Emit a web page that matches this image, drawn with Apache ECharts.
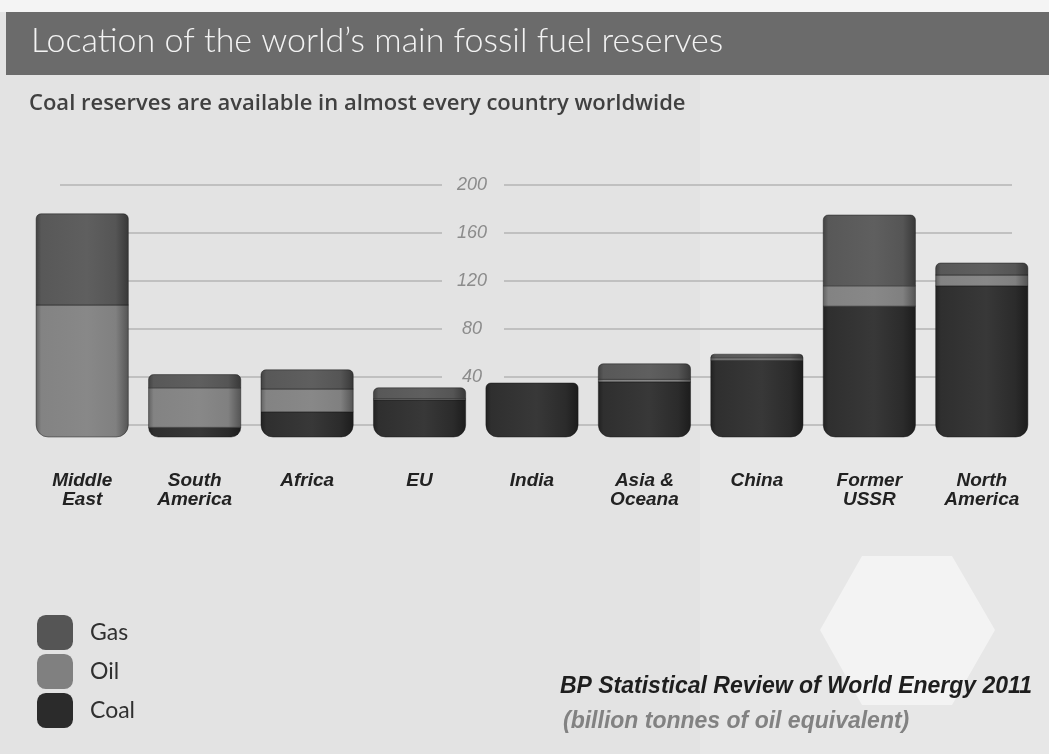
<!DOCTYPE html>
<html>
<head>
<meta charset="utf-8">
<script src="https://cdn.jsdelivr.net/npm/echarts@6/dist/echarts.min.js"></script>
<style>
  html, body { margin: 0; padding: 0; background: #e3e3e3; }
  #chart { width: 1049px; height: 754px; }
</style>
</head>
<body>
<div id="chart"></div>
<script>
// ---- data (billion tonnes of oil equivalent) ----
const categories = ['Middle\nEast', 'South\nAmerica', 'Africa', 'EU', 'India', 'Asia &\nOceana', 'China', 'Former\nUSSR', 'North\nAmerica'];
const coal = [0, 8, 21, 31, 45, 46, 64, 109, 126];
const oil  = [110, 33, 19, 1, 0, 2, 2, 17, 9];
const gas  = [76, 11, 16, 9, 0, 13, 3, 59, 10];
const yMin = 0, yMax = 200, yInterval = 40;
const seriesNames = ['Coal', 'Oil', 'Gas'];
const seriesColors = { Coal: '#2b2b2b', Oil: '#808080', Gas: '#555555' };

const stacks = [coal, oil, gas];
const totals = categories.map((_, i) => coal[i] + oil[i] + gas[i]);

function buildData(k) {
  return categories.map((_, i) => {
    let s = 0;
    for (let j = 0; j < k; j++) s += stacks[j][i];
    const e = s + stacks[k][i];
    return [i, s, e, totals[i]];
  });
}

function shade(hex, f) {
  const n = parseInt(hex.slice(1), 16);
  let r = (n >> 16) & 255, g = (n >> 8) & 255, b = n & 255;
  const adj = c => Math.max(0, Math.min(255, Math.round(f >= 0 ? c + (255 - c) * f : c * (1 + f))));
  return 'rgb(' + adj(r) + ',' + adj(g) + ',' + adj(b) + ')';
}

function makeRender(color) {
  return function (params, api) {
    const i = api.value(0), s = api.value(1), e = api.value(2), tot = api.value(3);
    if (e - s <= 0) return null;
    const p0 = api.coord([i, s]);
    const p1 = api.coord([i, e]);
    const bw = api.size([1, 0])[0] * 0.82;
    const shift = 12;
    const isBottom = s === 0, isTop = e === tot;
    const r = [isTop ? 5 : 0, isTop ? 5 : 0, isBottom ? 12 : 0, isBottom ? 12 : 0];
    return {
      type: 'rect',
      shape: { x: p0[0] - bw / 2, y: p1[1] + shift, width: bw, height: p0[1] - p1[1], r: r },
      style: {
        fill: new echarts.graphic.LinearGradient(0, 0, 1, 0, [
          { offset: 0, color: shade(color, -0.25) },
          { offset: 0.06, color: shade(color, 0.02) },
          { offset: 0.55, color: shade(color, 0.06) },
          { offset: 0.86, color: color },
          { offset: 1, color: shade(color, -0.35) }
        ]),
        stroke: 'rgba(20,20,20,0.45)',
        lineWidth: 1
      }
    };
  };
}

const chart = echarts.init(document.getElementById('chart'), null, { renderer: 'canvas' });

const gridTop = 185, gridHeight = 240;

const option = {
  backgroundColor: '#e3e3e3',
  animation: false,
  graphic: [
    { type: 'rect', z: -10, shape: { x: 0, y: 0, width: 1049, height: 12 }, style: { fill: '#f4f4f4' } },
    { type: 'rect', z: -10, shape: { x: 700, y: 75, width: 349, height: 679 }, style: { fill: 'rgba(255,255,255,0.15)' } },
    { type: 'polygon', z: -9, shape: { points: [[820, 630], [862, 556], [952, 556], [995, 630], [952, 705], [862, 705]] }, style: { fill: 'rgba(255,255,255,0.5)' } },
    { type: 'rect', z: -8, shape: { x: 6, y: 12, width: 1043, height: 63 }, style: { fill: '#6b6b6b' } }
  ],
  title: [
    { text: 'Location of the world\u2019s main fossil fuel reserves', left: 26, top: 19,
      textStyle: { fontFamily: 'Lato', fontWeight: 300, fontSize: 34, color: '#f3f3f3' } },
    { text: 'Coal reserves are available in almost every country worldwide', left: 24, top: 88,
      textStyle: { fontFamily: 'Open Sans', fontWeight: 600, fontSize: 22, color: '#404040' } },
    { text: 'BP Statistical Review of World Energy 2011', right: 12, top: 670,
      textStyle: { fontFamily: 'Liberation Sans', fontStyle: 'italic', fontWeight: 'bold', fontSize: 23, color: '#1e1e1e' } },
    { text: '(billion tonnes of oil equivalent)', left: 558, top: 705,
      textStyle: { fontFamily: 'Liberation Sans', fontStyle: 'italic', fontWeight: 'bold', fontSize: 23, color: '#828282' } }
  ],
  legend: {
    orient: 'vertical', left: 32, top: 610,
    itemWidth: 36, itemHeight: 35, itemGap: 4, icon: 'roundRect',
    data: ['Gas', 'Oil', 'Coal'],
    textStyle: { fontFamily: 'Lato', fontSize: 23, color: '#303030', padding: [0, 0, 0, 12] }
  },
  grid: [
    { left: 26, width: 1012, top: gridTop, height: gridHeight },
    { left: 60, width: 382, top: gridTop, height: gridHeight },
    { left: 504, width: 508, top: gridTop, height: gridHeight }
  ],
  xAxis: [
    { type: 'category', gridIndex: 0, data: categories,
      axisLine: { show: false }, axisTick: { show: false },
      axisLabel: { margin: 46, fontFamily: 'Liberation Sans', fontStyle: 'italic', fontWeight: 'bold', fontSize: 19, color: '#222222', lineHeight: 19 } },
    { type: 'value', gridIndex: 1, min: 0, max: 1, show: false },
    { type: 'value', gridIndex: 2, min: 0, max: 1, show: false }
  ],
  yAxis: [
    { type: 'value', gridIndex: 0, min: yMin, max: yMax, interval: yInterval, show: false },
    { type: 'value', gridIndex: 1, min: yMin, max: yMax, interval: yInterval, position: 'right',
      axisLine: { show: false }, axisTick: { show: false },
      splitLine: { show: true, lineStyle: { color: '#b4b4b4', width: 1.5 } },
      axisLabel: { show: true, align: 'center', margin: 30, fontFamily: 'Liberation Sans', fontStyle: 'italic', fontSize: 18, color: '#8c8c8c',
        formatter: v => (v === 0 ? '' : String(v)) } },
    { type: 'value', gridIndex: 2, min: yMin, max: yMax, interval: yInterval,
      axisLine: { show: false }, axisTick: { show: false }, axisLabel: { show: false },
      splitLine: { show: true, lineStyle: { color: '#b4b4b4', width: 1.5 } } }
  ],
  series: seriesNames.map((name, k) => ({
    type: 'custom', name: name, xAxisIndex: 0, yAxisIndex: 0,
    itemStyle: { color: seriesColors[name] },
    renderItem: makeRender(seriesColors[name]),
    encode: { x: 0, y: [1, 2] },
    data: buildData(k)
  }))
};

chart.setOption(option);
</script>
</body>
</html>
